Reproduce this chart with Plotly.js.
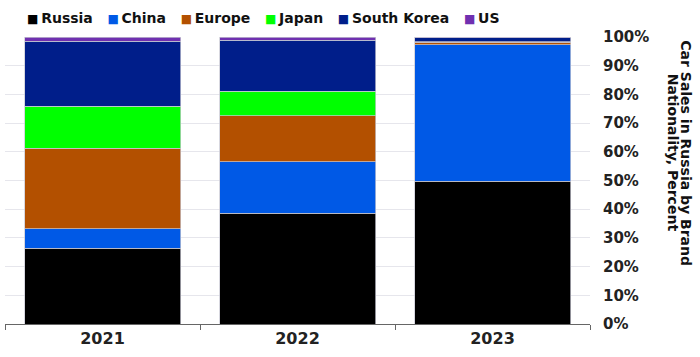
<!DOCTYPE html>
<html>
<head>
<meta charset="utf-8">
<script src="https://cdn.plot.ly/plotly-3.0.1.min.js"></script>
<style>html,body{margin:0;padding:0;background:#fff;}#chart{width:700px;height:357px;}</style>
</head>
<body>
<div id="chart"></div>
<script>
const years = ['2021', '2022', '2023'];
const seriesNames = ['Russia', 'China', 'Europe', 'Japan', 'South Korea', 'US'];
const seriesColors = ['#000000', '#0059e6', '#b35000', '#00ff00', '#001e8a', '#7030b0'];
const russia = [26.4, 38.6, 49.7];
const china = [6.8, 18.0, 47.6];
const europe = [28.0, 16.0, 0.8];
const japan = [14.6, 8.5, 0.2];
const southKorea = [22.7, 17.7, 1.4];
const us = [1.5, 1.2, 0.3];
const seriesValues = [russia, china, europe, japan, southKorea, us];
const yTickVals = [0, 10, 20, 30, 40, 50, 60, 70, 80, 90, 100];
const yTickText = ['0%', '10%', '20%', '30%', '40%', '50%', '60%', '70%', '80%', '90%', '100%'];
const yTitleLines = ['Car Sales in Russia by Brand', 'Nationality, Percent'];

const FONT = 'DejaVu Sans';
const traces = seriesNames.map((name, i) => ({
  type: 'bar',
  name: name,
  x: years,
  y: seriesValues[i],
  marker: { color: seriesColors[i], line: { color: 'rgba(200,200,210,0.9)', width: 0.8 } },
  showlegend: false,
  hoverinfo: 'x+y+name'
}));

const legendText = seriesNames.map((n, i) =>
  '<span style="color:' + seriesColors[i] + ';font-size:12px">\u25A0</span>\u2009' + n
).join('\u00a0\u00a0\u00a0');

const layout = {
  width: 700,
  height: 357,
  margin: { l: 5, r: 110, t: 37, b: 33 },
  paper_bgcolor: '#ffffff',
  plot_bgcolor: '#ffffff',
  barmode: 'stack',
  bargap: 0.2,
  font: { family: FONT, color: '#222222', weight: 'bold' },
  showlegend: false,
  xaxis: {
    type: 'category',
    tickson: 'boundaries',
    ticks: 'outside',
    ticklen: 5,
    tickcolor: '#666666',
    tickwidth: 1,
    showline: true,
    linecolor: '#666666',
    linewidth: 1,
    showgrid: false,
    tickfont: { family: FONT, size: 16, color: '#222222', weight: 'bold' },
    fixedrange: true
  },
  yaxis: {
    side: 'right',
    range: [0, 100],
    tickvals: yTickVals,
    ticktext: yTickText,
    showgrid: true,
    gridcolor: '#e6e6ec',
    gridwidth: 1,
    zeroline: false,
    showline: false,
    ticks: '',
    ticklabelstandoff: 12,
    tickfont: { family: FONT, size: 15, color: '#222222', weight: 'bold' },
    fixedrange: true
  },
  annotations: [
    {
      xref: 'paper', yref: 'paper',
      x: 0.034, y: 1.066,
      xanchor: 'left', yanchor: 'middle',
      showarrow: false,
      align: 'left',
      text: legendText,
      font: { family: FONT, size: 14, color: '#111111', weight: 'bold' }
    },
    {
      xref: 'paper', yref: 'paper',
      x: 1.164, y: 0.595,
      xanchor: 'center', yanchor: 'middle',
      showarrow: false,
      textangle: 90,
      text: yTitleLines[0],
      font: { family: FONT, size: 14, color: '#111111', weight: 'bold' }
    },
    {
      xref: 'paper', yref: 'paper',
      x: 1.141, y: 0.595,
      xanchor: 'center', yanchor: 'middle',
      showarrow: false,
      textangle: 90,
      text: yTitleLines[1],
      font: { family: FONT, size: 14, color: '#111111', weight: 'bold' }
    }
  ]
};

Plotly.newPlot('chart', traces, layout, { displayModeBar: false, staticPlot: true });
</script>
</body>
</html>
